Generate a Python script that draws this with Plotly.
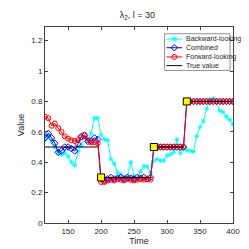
import plotly.graph_objects as go

time = [115 + 5 * i for i in range(58)]

backward = [0.55, 0.58, 0.54, 0.50, 0.46, 0.45, 0.46, 0.44, 0.40, 0.38,
            0.47, 0.51, 0.565, 0.55, 0.59, 0.69, 0.69, 0.58, 0.55, 0.545,
            0.42, 0.39, 0.33, 0.32, 0.30, 0.30, 0.40, 0.31, 0.29, 0.34,
            0.375, 0.37, 0.33, 0.41, 0.42, 0.41, 0.41, 0.445, 0.45, 0.465,
            0.55, 0.46, 0.49, 0.48, 0.474, 0.47, 0.57, 0.63, 0.67, 0.75,
            0.81, 0.82, 0.80, 0.74, 0.73, 0.70, 0.68, 0.65]

combined = [0.56, 0.59, 0.56, 0.525, 0.465, 0.474, 0.50, 0.50, 0.49, 0.474,
            0.52, 0.57, 0.575, 0.537, 0.54, 0.56, 0.55,
            0.29, 0.28, 0.29, 0.30, 0.29, 0.295, 0.30, 0.29, 0.30, 0.295,
            0.29, 0.30, 0.295, 0.30, 0.29, 0.30,
            0.5, 0.5, 0.5, 0.5, 0.5, 0.5, 0.5, 0.5, 0.5, 0.5,
            0.8, 0.8, 0.8, 0.8, 0.8, 0.8, 0.8, 0.8, 0.8, 0.8, 0.8, 0.8, 0.8, 0.8, 0.8]

forward = [0.70, 0.69, 0.64, 0.655, 0.625, 0.60, 0.57, 0.555, 0.545, 0.54,
           0.545, 0.565, 0.58, 0.545, 0.53, 0.53, 0.525,
           0.27, 0.27, 0.28, 0.285, 0.28, 0.29, 0.285, 0.28, 0.29, 0.285,
           0.28, 0.285, 0.29, 0.285, 0.29, 0.285,
           0.5, 0.5, 0.5, 0.5, 0.5, 0.5, 0.5, 0.5, 0.5, 0.5,
           0.8, 0.8, 0.8, 0.8, 0.8, 0.8, 0.8, 0.8, 0.8, 0.8, 0.8, 0.8, 0.8, 0.8, 0.8]

true_value = [0.5] * 17 + [0.3] * 16 + [0.5] * 10 + [0.8] * 15

change_times = [200, 280, 330]
change_values = [0.3, 0.5, 0.8]

x_ticks = [150, 200, 250, 300, 350, 400]
y_ticks = [0, 0.2, 0.4, 0.6, 0.8, 1, 1.2]
y_tick_labels = ["0", "0.2", "0.4", "0.6", "0.8", "1", "1.2"]

series_names = ["Backward-looking", "Combined", "Forward-looking", "True value"]
series_colors = ["#00FFFF", "#0000FF", "#FF0000", "#000000"]
series_symbols = ["asterisk-open", "diamond-open", "circle-open", None]

FONT = "Liberation Sans"
NARROW = "Liberation Sans Narrow, Liberation Sans"
TXT = "#262626"

fig = go.Figure()
for name, vals, col, sym, sz in zip(series_names[:3], [backward, combined, forward],
                                    series_colors[:3], series_symbols[:3], [4, 5, 5]):
    fig.add_trace(go.Scatter(x=time, y=vals, name=name, mode="lines+markers",
                             line=dict(color=col, width=1),
                             marker=dict(symbol=sym, size=sz, color=col,
                                         line=dict(color=col, width=1))))

# true value drawn as separate horizontal pieces
tx, ty = [], []
for i, (t, v) in enumerate(zip(time, true_value)):
    if i > 0 and v != true_value[i - 1]:
        tx.append(None)
        ty.append(None)
    tx.append(t)
    ty.append(v)
fig.add_trace(go.Scatter(x=tx, y=ty, name="True value", mode="lines",
                         line=dict(color="#000000", width=1), connectgaps=False))
fig.add_trace(go.Scatter(x=change_times, y=change_values, mode="markers",
                         marker=dict(symbol="square", size=7, color="#FFFF00",
                                     line=dict(color="#000000", width=1))))

# legend built on an overlay axis in pixel units
lx0, lx1, ly0, ly1 = 155, 222, 26, 64
item_y = [31.5, 40.5, 50, 59]
fig.add_trace(go.Scatter(x=[lx0, lx1, lx1, lx0, lx0], y=[ly0, ly0, ly1, ly1, ly0],
                         xaxis="x2", yaxis="y2", mode="lines", fill="toself",
                         fillcolor="white", line=dict(color="#909090", width=1),
                         hoverinfo="skip"))
for yy, name, col, sym in zip(item_y, series_names, series_colors, series_symbols):
    fig.add_trace(go.Scatter(x=[157, 165, 173], y=[yy, yy, yy], xaxis="x2", yaxis="y2",
                             mode="lines", line=dict(color=col, width=1), hoverinfo="skip"))
    if sym:
        fig.add_trace(go.Scatter(x=[165], y=[yy], xaxis="x2", yaxis="y2", mode="markers",
                                 marker=dict(symbol=sym, size=5, color=col,
                                             line=dict(color=col, width=1)),
                                 hoverinfo="skip"))
    fig.add_annotation(x=175, y=yy, xref="x2", yref="y2", text=name, showarrow=False,
                       xanchor="left", yanchor="middle",
                       font=dict(size=7, color=TXT, family=NARROW))

axis_common = dict(showline=True, linecolor="#404040", linewidth=1, mirror="ticks",
                   ticks="inside", ticklen=3, tickcolor="#404040", showgrid=False,
                   zeroline=False, tickfont=dict(size=8, color=TXT, family=FONT))

fig.update_xaxes(range=[115, 400], tickvals=x_ticks,
                 title=dict(text="Time", font=dict(size=9, color=TXT, family=FONT), standoff=3),
                 **axis_common)
fig.update_yaxes(range=[0, 1.29], tickvals=y_ticks, ticktext=y_tick_labels,
                 title=dict(text="Value", font=dict(size=9, color=TXT, family=FONT), standoff=5),
                 **axis_common)

fig.update_layout(
    width=249, height=249,
    margin=dict(l=33, r=24, t=19, b=27),
    paper_bgcolor="white", plot_bgcolor="white",
    showlegend=False,
    xaxis2=dict(overlaying="x", range=[33, 225], visible=False, fixedrange=True),
    yaxis2=dict(overlaying="y", range=[222, 19], visible=False, fixedrange=True),
    title=dict(text="λ<sub>2</sub>, l = 30", x=0.52, xanchor="center", y=0.985, yanchor="top",
               font=dict(size=9, color=TXT, family=FONT)),
)

fig.write_html("out.html")
